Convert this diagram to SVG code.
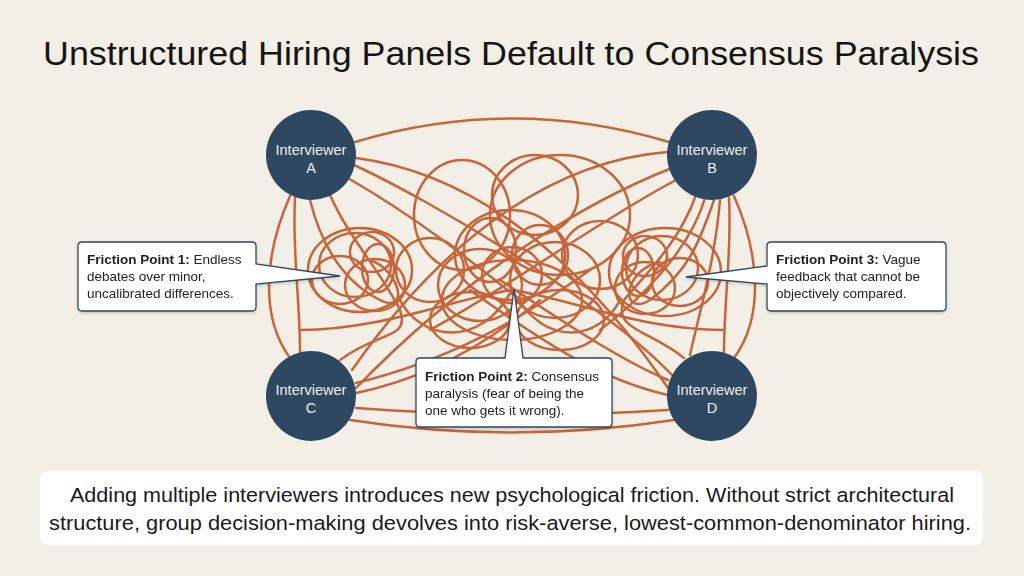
<svg xmlns="http://www.w3.org/2000/svg" width="1024" height="576" viewBox="0 0 1024 576">
<defs>
<style>
.bg{fill:#f3efe7}
.w{fill:none;stroke:#c7653a;stroke-width:2.5;stroke-linecap:round}
.node{fill:#2f4862}
.nt{font-family:"Liberation Sans",Arial,sans-serif;font-size:14.5px;fill:#e9edf1;text-anchor:middle}
.cb{fill:#ffffff;stroke:#2f4862;stroke-width:1.3}
.ct{font-family:"Liberation Sans",Arial,sans-serif;font-size:13.5px;fill:#222}
.title{font-family:"Liberation Sans",Arial,sans-serif;font-size:33px;fill:#151515;text-anchor:middle}
.bt{font-family:"Liberation Sans",Arial,sans-serif;font-size:20.5px;fill:#1a1a1a;text-anchor:middle}
</style>
<filter id="sh" x="-10%" y="-10%" width="120%" height="130%"><feDropShadow dx="0" dy="1.5" stdDeviation="1.5" flood-color="#000" flood-opacity="0.18"/></filter>
</defs>
<rect class="bg" x="0" y="0" width="1024" height="576"/>
<text class="title" x="511" y="65" textLength="936" lengthAdjust="spacingAndGlyphs">Unstructured Hiring Panels Default to Consensus Paralysis</text>

<g id="connectors">
<path class="w" d="M355,142 Q512,95 669,142"/>
<path class="w" d="M290,196 C262,260 262,320 290,358"/>
<path class="w" d="M734,196 C762,260 762,320 734,358"/>
<path class="w" d="M350,420 Q512,445 674,420"/>
<path class="w" d="M356,408 Q512,420 668,410"/>
<path class="w" d="M356,158 C450,170 560,230 668,388"/>
<path class="w" d="M354,165 C430,200 600,300 672,375"/>
<path class="w" d="M348,178 C420,220 470,260 520,300"/>
<path class="w" d="M668,152 C560,160 450,230 352,370"/>
<path class="w" d="M672,168 C590,200 470,270 356,388"/>
<path class="w" d="M676,180 C600,220 520,280 430,330"/>
<path class="w" d="M356,393 C420,380 480,350 540,300"/>
<path class="w" d="M356,383 C450,360 520,320 590,270"/>
<path class="w" d="M668,380 C620,360 560,320 500,280"/>
<path class="w" d="M668,395 C600,380 540,340 470,290"/>
<path class="w" d="M295,198 C292,250 300,300 300,352"/>
<path class="w" d="M310,200 C320,240 340,280 380,300 C410,315 400,270 370,260"/>
<path class="w" d="M330,195 C350,240 380,270 400,310 C410,340 380,330 340,360"/>
<path class="w" d="M729,198 C732,250 724,300 724,352"/>
<path class="w" d="M714,200 C700,240 690,270 650,300 C620,318 622,270 660,262"/>
<path class="w" d="M696,195 C680,240 650,270 624,300 C612,330 650,330 684,358"/>
<path class="w" d="M705,198 C690,250 640,300 600,330"/>
<path class="w" d="M720,200 C715,260 700,310 690,355"/>
<ellipse class="w" cx="355" cy="265" rx="36" ry="32"/>
<ellipse class="w" cx="372" cy="252" rx="22" ry="20"/>
<ellipse class="w" cx="340" cy="280" rx="28" ry="24"/>
<ellipse class="w" cx="375" cy="285" rx="30" ry="26"/>
<ellipse class="w" cx="360" cy="270" rx="52" ry="42"/>
<ellipse class="w" cx="378" cy="268" rx="16" ry="24"/>
<ellipse class="w" cx="662" cy="268" rx="36" ry="32"/>
<ellipse class="w" cx="645" cy="256" rx="22" ry="20"/>
<ellipse class="w" cx="680" cy="282" rx="28" ry="24"/>
<ellipse class="w" cx="645" cy="288" rx="30" ry="26"/>
<ellipse class="w" cx="665" cy="272" rx="56" ry="44"/>
<ellipse class="w" cx="638" cy="272" rx="16" ry="24"/>
<ellipse class="w" cx="462" cy="215" rx="48" ry="55"/>
<ellipse class="w" cx="535" cy="195" rx="43" ry="40"/>
<ellipse class="w" cx="560" cy="215" rx="70" ry="60"/>
<ellipse class="w" cx="510" cy="255" rx="55" ry="45"/>
<ellipse class="w" cx="480" cy="285" rx="42" ry="36"/>
<ellipse class="w" cx="555" cy="280" rx="45" ry="38"/>
<ellipse class="w" cx="512" cy="275" rx="30" ry="28"/>
<ellipse class="w" cx="540" cy="255" rx="28" ry="30"/>
<ellipse class="w" cx="490" cy="250" rx="26" ry="32"/>
<ellipse class="w" cx="600" cy="255" rx="38" ry="34"/>
<ellipse class="w" cx="430" cy="270" rx="34" ry="32"/>
<ellipse class="w" cx="512" cy="300" rx="70" ry="40"/>
<ellipse class="w" cx="470" cy="320" rx="40" ry="28"/>
<ellipse class="w" cx="560" cy="320" rx="44" ry="30"/>
<path class="w" d="M400,300 C420,340 480,350 512,290 C545,350 600,340 620,300"/>
<path class="w" d="M300,330 C380,330 450,300 512,290 C575,300 640,330 724,330"/>
</g>

<g id="node-a"><circle class="node" cx="311" cy="155" r="45"/><text class="nt" x="311" y="155">Interviewer</text><text class="nt" x="311" y="173">A</text></g>
<g id="node-b"><circle class="node" cx="712" cy="155" r="45"/><text class="nt" x="712" y="155">Interviewer</text><text class="nt" x="712" y="173">B</text></g>
<g id="node-c"><circle class="node" cx="311" cy="396" r="45"/><text class="nt" x="311" y="395">Interviewer</text><text class="nt" x="311" y="413">C</text></g>
<g id="node-d"><circle class="node" cx="712" cy="396" r="45"/><text class="nt" x="712" y="395">Interviewer</text><text class="nt" x="712" y="413">D</text></g>

<g id="callout-1" filter="url(#sh)">
<path class="cb" d="M82,242 H252 Q256,242 256,246 V264 L340,276 L256,284 V307 Q256,311 252,311 H82 Q78,311 78,307 V246 Q78,242 82,242 Z"/>
<text class="ct" x="87" y="264"><tspan font-weight="bold">Friction Point 1:</tspan> Endless</text>
<text class="ct" x="87" y="281">debates over minor,</text>
<text class="ct" x="87" y="298">uncalibrated differences.</text>
</g>
<g id="callout-2" filter="url(#sh)">
<path class="cb" d="M420,358 H505 L514,289 L523,358 H608 Q612,358 612,362 V423 Q612,427 608,427 H420 Q416,427 416,423 V362 Q416,358 420,358 Z"/>
<text class="ct" x="425" y="381"><tspan font-weight="bold">Friction Point 2:</tspan> Consensus</text>
<text class="ct" x="425" y="398">paralysis (fear of being the</text>
<text class="ct" x="425" y="415">one who gets it wrong).</text>
</g>
<g id="callout-3" filter="url(#sh)">
<path class="cb" d="M771,242 H942 Q946,242 946,246 V307 Q946,311 942,311 H771 Q767,311 767,307 V284 L686,277 L767,266 V246 Q767,242 771,242 Z"/>
<text class="ct" x="776" y="264"><tspan font-weight="bold">Friction Point 3:</tspan> Vague</text>
<text class="ct" x="776" y="281">feedback that cannot be</text>
<text class="ct" x="776" y="298">objectively compared.</text>
</g>

<g id="summary">
<rect x="40" y="471" width="943" height="74" rx="8" fill="#ffffff"/>
<text class="bt" x="512" y="502" textLength="884" lengthAdjust="spacingAndGlyphs">Adding multiple interviewers introduces new psychological friction. Without strict architectural</text>
<text class="bt" x="510" y="530" textLength="922" lengthAdjust="spacingAndGlyphs">structure, group decision-making devolves into risk-averse, lowest-common-denominator hiring.</text>
</g>
</svg>
